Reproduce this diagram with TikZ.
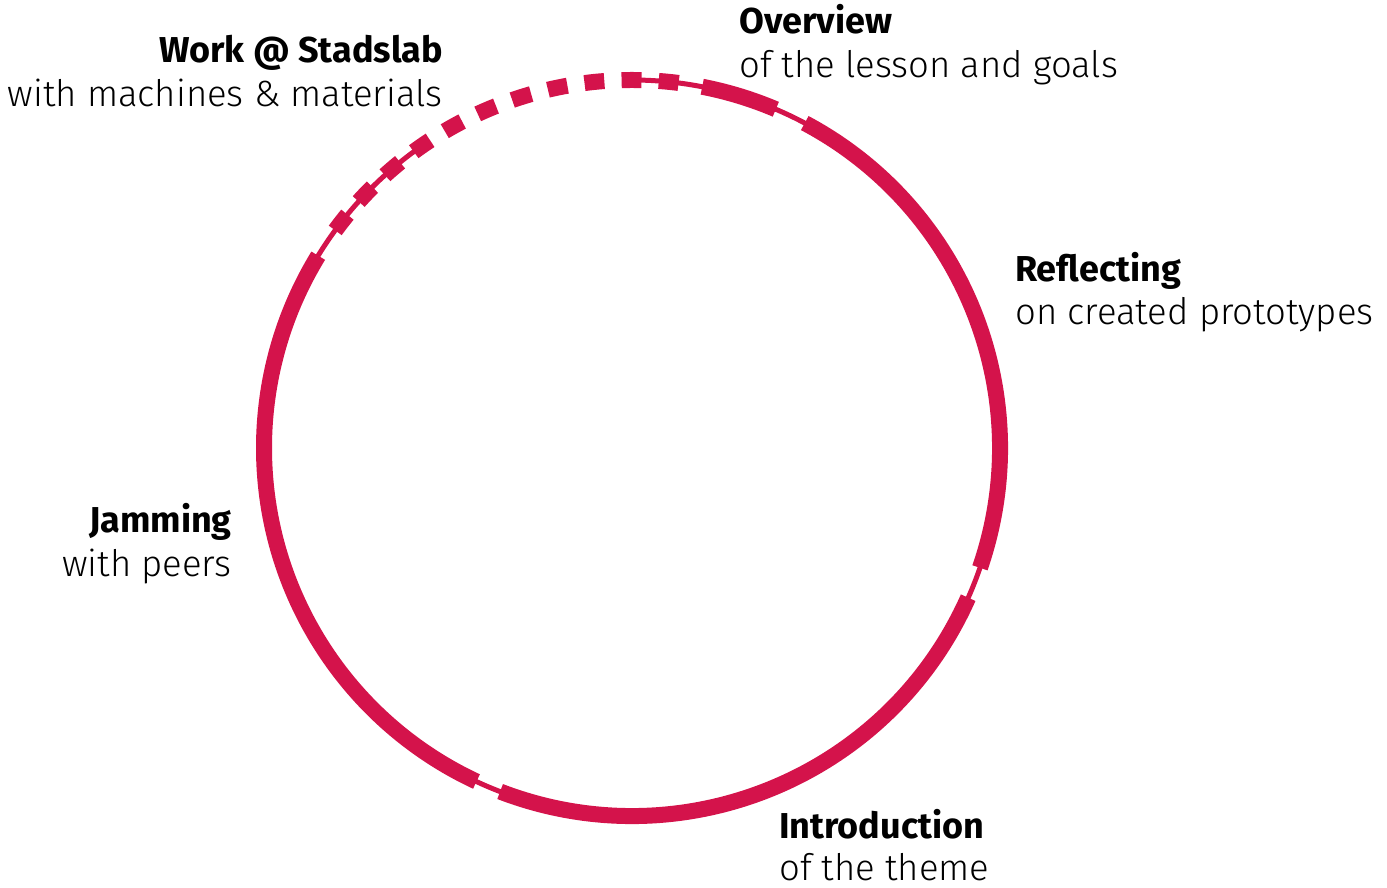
\documentclass[tikz,border=0pt]{standalone}
\usepackage{fontspec}
\setmainfont{Fira Sans}[UprightFont={* Light}, BoldFont={* Bold}]
\usetikzlibrary{positioning}
\definecolor{cyclered}{HTML}{D4134B}
\tikzset{
  thinring/.style={draw=cyclered, line width=5pt},
  thickring/.style={draw=cyclered, line width=16pt},
  dashring/.style={draw=cyclered, line width=16pt, dash pattern=on 19.9pt off 17.3pt},
  phasetitle/.style={font=\fontsize{36}{43}\selectfont\bfseries, inner sep=0pt},
  phasenote/.style={font=\fontsize{36.5}{43}\selectfont, inner sep=0pt}
}

\begin{document}
\begin{tikzpicture}[x=1pt, y=1pt]
  \useasboundingbox (0,0) rectangle (1387,888);
  \coordinate (c) at (632,440);

  % thin ring, open at the top left
  \draw[thinring] (c) ++(124:368) arc (124:450.5:368);
  % thick arcs between the phases
  \foreach \a/\b in {79/67, 62/-19, -24/-111, -115/-211.5}
    \draw[thickring] (c) ++(\a:368) arc (\a:\b:368);
  % dashed stretch for the lab work
  \draw[dashring] (c) ++(143.75:368) arc (143.75:82.5:368);

  % phase labels
  \node[phasetitle, anchor=base west] (overview) at (739,854) {Overview};
  \node[phasenote, anchor=base west] (overviewnote) at ([yshift=-44pt]overview.base west) {of the lesson and goals};

  \node[phasetitle, anchor=base west] (reflect) at (1015,606) {Reflecting};
  \node[phasenote, anchor=base west] (reflectnote) at ([yshift=-43pt]reflect.base west) {on created prototypes};

  \node[phasetitle, anchor=base west] (intro) at (779,49) {Introduction};
  \node[phasenote, anchor=base west] (intronote) at ([yshift=-42pt]intro.base west) {of the theme};

  \node[phasetitle, anchor=base east] (jam) at (232,355) {Jamming};
  \node[phasenote, anchor=base east] (jamnote) at ([yshift=-44pt]jam.base east) {with peers};

  \node[phasetitle, anchor=base east] (work) at (443,825) {Work @ Stadslab};
  \node[phasenote, anchor=base east] (worknote) at ([yshift=-44pt]work.base east) {with machines \& materials};
\end{tikzpicture}
\end{document}
